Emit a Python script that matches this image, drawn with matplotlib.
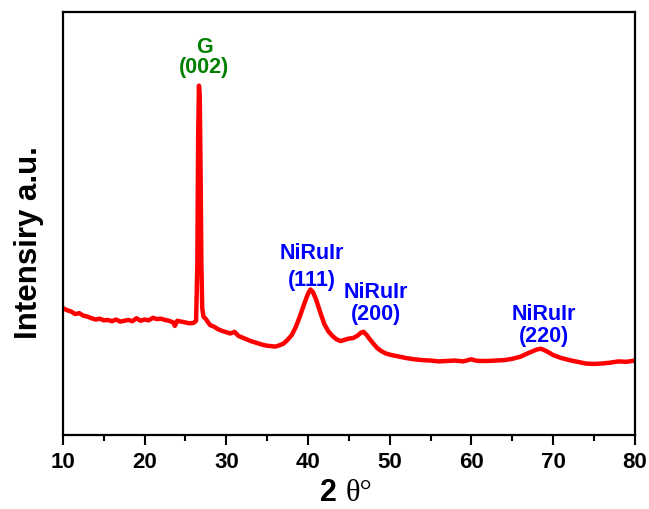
#!/usr/bin/env python3
"""
plot.py

XRD pattern of NiRuIr on graphene support.
"""

import matplotlib
matplotlib.use('Agg')
import matplotlib.pyplot as plt
from matplotlib.ticker import MultipleLocator

# ============================================================================
# Data (arbitrary intensity units)
# ============================================================================

two_theta = [
    10, 10.5, 11, 11.5, 12, 12.5, 13, 13.5, 14, 14.5, 15, 15.5, 16, 16.5, 17,
    17.5, 18, 18.5, 19, 19.5, 20, 20.5, 21, 21.5, 22, 22.5, 23, 23.5, 23.7,
    24, 24.5, 25, 25.5, 26, 26.3, 26.45, 26.55, 26.65, 26.75, 26.85, 26.95,
    27.05, 27.2, 27.5, 28, 28.5, 29, 29.5, 30, 30.5, 31, 31.5, 32, 32.5, 33,
    33.5, 34, 34.5, 35, 35.5, 36, 36.5, 37, 37.5, 38, 38.5, 39, 39.5, 40,
    40.3, 40.6, 41, 41.5, 42, 42.5, 43, 43.5, 44, 44.5, 45, 45.5, 46, 46.5,
    46.8, 47.2, 47.5, 48, 48.5, 49, 49.5, 50, 51, 52, 53, 54, 55, 56, 57, 58,
    59, 60, 60.5, 61, 62, 63, 64, 65, 66, 67, 68, 68.5, 69, 69.5, 70, 71, 72,
    73, 74, 75, 76, 77, 78, 79, 80,
]

intensity = [
    30.0, 29.5, 29.2, 28.6, 28.8, 28.2, 28.0, 27.6, 27.3, 27.5, 27.1, 27.2,
    26.9, 27.3, 26.8, 27.0, 27.2, 26.9, 27.6, 27.0, 27.3, 27.1, 27.7, 27.4,
    27.5, 27.2, 27.0, 26.6, 25.8, 27.0, 26.8, 26.6, 26.4, 26.5, 27.0, 40.0,
    70.0, 82.6, 80.0, 62.0, 40.0, 30.0, 28.0, 27.4, 26.0, 25.6, 25.0, 24.6,
    24.3, 24.0, 24.4, 23.4, 23.0, 22.6, 22.2, 21.9, 21.6, 21.3, 21.1, 21.0,
    20.9, 21.2, 21.6, 22.5, 23.6, 25.5, 28.0, 30.8, 33.4, 34.4, 33.8, 32.0,
    29.0, 26.2, 24.5, 23.4, 22.6, 22.2, 22.5, 22.8, 22.9, 23.4, 24.2, 24.4,
    23.6, 22.8, 21.6, 20.5, 19.8, 19.3, 19.0, 18.6, 18.2, 17.9, 17.7, 17.6,
    17.4, 17.5, 17.6, 17.4, 17.9, 17.6, 17.5, 17.5, 17.6, 17.7, 18.0, 18.5,
    19.4, 20.2, 20.4, 20.0, 19.5, 18.9, 18.2, 17.7, 17.3, 16.9, 16.8, 16.9,
    17.1, 17.4, 17.3, 17.6,
]

# peak annotations
peak_x = [27.3, 40.5, 48.3, 68.9]
peak_name_y = [91.5, 43.0, 33.8, 28.6]
peak_hkl_y = [86.8, 36.6, 28.4, 23.4]
peak_names = ['G', 'NiRuIr', 'NiRuIr', 'NiRuIr']
peak_hkl = ['(002)', '(111)', '(200)', '(220)']
peak_colors = ['#008000', '#0000ff', '#0000ff', '#0000ff']

# ============================================================================
# Plot
# ============================================================================

plt.rcParams['font.family'] = ['Liberation Sans', 'DejaVu Sans']

fig = plt.figure(figsize=(6.49, 5.09), dpi=100)
ax = fig.add_axes([0.097, 0.1454, 0.881, 0.831])

ax.plot(two_theta, intensity, color='red', linewidth=3.2)

for x, yn, yh, name, hkl, c in zip(peak_x, peak_name_y, peak_hkl_y,
                                   peak_names, peak_hkl, peak_colors):
    ax.text(x, yn, name, color=c, fontsize=15.5, fontweight='bold',
            ha='center', va='center')
    ax.text(x, yh, hkl, color=c, fontsize=15.5, fontweight='bold',
            ha='center', va='center')

ax.set_xlim(10, 80)
ax.set_ylim(0, 100)
ax.xaxis.set_major_locator(MultipleLocator(10))
ax.xaxis.set_minor_locator(MultipleLocator(5))
ax.set_yticks([])

ax.tick_params(axis='x', which='major', direction='out', length=7, width=1.5,
               labelsize=16, pad=5)
ax.tick_params(axis='x', which='minor', direction='out', length=4, width=1.5)
for lbl in ax.get_xticklabels():
    lbl.set_fontweight('bold')

for spine in ax.spines.values():
    spine.set_linewidth(1.6)

# axis titles
fig.text(0.044, 0.523, 'Intensiry a.u.', fontsize=22.5, fontweight='bold',
         rotation=90, ha='center', va='center')
fig.text(0.532, 0.016, '2 ', fontsize=22, fontweight='bold',
         ha='right', va='baseline')
fig.text(0.532, 0.016, 'θ°', fontsize=22, family='Liberation Serif',
         ha='left', va='baseline')

fig.savefig('out.png', dpi=100)
